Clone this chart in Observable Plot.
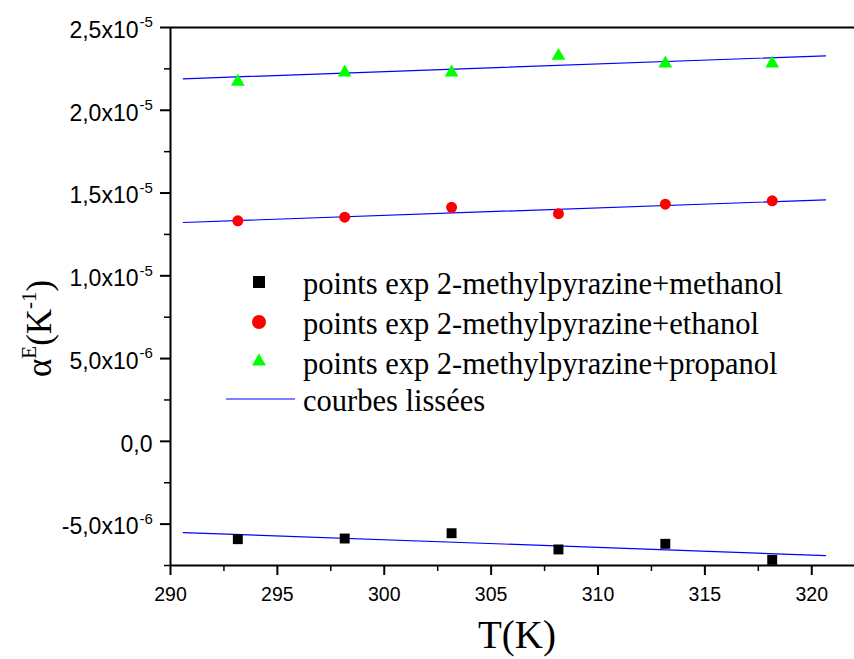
<!DOCTYPE html>
<html><head><meta charset="utf-8">
<script src="https://cdn.jsdelivr.net/npm/d3@7"></script>
<script src="https://cdn.jsdelivr.net/npm/@observablehq/plot@0.6"></script>
<style>body{margin:0;background:#fff}</style>
</head><body><div id="chart"></div>
<script>
// ---- data ----
const temperatures = [293.15, 298.15, 303.15, 308.15, 313.15, 318.15];
const methanol = [-5.91e-6, -5.87e-6, -5.55e-6, -6.53e-6, -6.19e-6, -7.16e-6];
const ethanol  = [1.332e-5, 1.354e-5, 1.414e-5, 1.375e-5, 1.433e-5, 1.453e-5];
const propanol = [2.172e-5, 2.228e-5, 2.228e-5, 2.329e-5, 2.283e-5, 2.283e-5];

const fitT = [290.6, 320.65];
const fitMethanol = [-5.51e-6, -6.90e-6];
const fitEthanol  = [1.322e-5, 1.459e-5];
const fitPropanol = [2.19e-5, 2.329e-5];

const xDomain = [290, 322];
const yDomain = [-7.5e-6, 2.5e-5];
const xMajorTicks = [290, 295, 300, 305, 310, 315, 320];
const xMinorTicks = [292.5, 297.5, 302.5, 307.5, 312.5, 317.5];
const yMajorTicks = [-5e-6, 0, 5e-6, 1e-5, 1.5e-5, 2e-5, 2.5e-5];
const yMajorMantissa = ["-5,0x10", "0,0", "5,0x10", "1,0x10", "1,5x10", "2,0x10", "2,5x10"];
const yMajorExponent = ["-6", "", "-6", "-5", "-5", "-5", "-5"];
const yMinorTicks = [-7.5e-6, -2.5e-6, 2.5e-6, 7.5e-6, 1.25e-5, 1.75e-5, 2.25e-5];

const seriesNames = [
  "points exp 2-methylpyrazine+methanol",
  "points exp 2-methylpyrazine+ethanol",
  "points exp 2-methylpyrazine+propanol"
];
const fitLabel = "courbes lissées";
const xTitle = "T(K)";

// ---- tables built from the arrays ----
const toRows = (vals) => temperatures.map((T, i) => ({T, v: vals[i]}));
const methRows = toRows(methanol), ethRows = toRows(ethanol), propRows = toRows(propanol);
const fitRows = [
  ...fitT.map((T, i) => ({T, v: fitMethanol[i], s: "m"})),
  ...fitT.map((T, i) => ({T, v: fitEthanol[i], s: "e"})),
  ...fitT.map((T, i) => ({T, v: fitPropanol[i], s: "p"}))
];
const yLabelRows = yMajorTicks.map((v, i) => ({v, m: yMajorMantissa[i], e: yMajorExponent[i]}));

const plot = Plot.plot({
  width: 854, height: 659,
  marginTop: 27, marginBottom: 94, marginLeft: 170, marginRight: 0,
  style: {background: "white", color: "black", fontFamily: "Liberation Sans"},
  x: {domain: xDomain},
  y: {domain: yDomain},
  marks: [
    Plot.ruleY([yDomain[0], yDomain[1]], {stroke: "black", strokeWidth: 2}),
    Plot.ruleX([xDomain[0]], {stroke: "black", strokeWidth: 2}),
    Plot.axisX({ticks: xMajorTicks, tickSize: 10, tickPadding: 11.5, strokeWidth: 2, fontSize: 19.5,
      fontFamily: "Liberation Sans", tickFormat: d => String(d), label: null}),
    Plot.axisX({ticks: xMinorTicks, tickSize: 6, strokeWidth: 1.5, fill: "none", label: null}),
    Plot.axisY({ticks: yMajorTicks, tickSize: 10, strokeWidth: 2, fill: "none", label: null, anchor: "left"}),
    Plot.axisY({ticks: yMinorTicks, tickSize: 6, strokeWidth: 1.5, fill: "none", label: null, anchor: "left"}),
    Plot.text(yLabelRows.filter(d => d.e), {y: "v", text: "m", frameAnchor: "left", dx: -32, dy: 3,
      textAnchor: "end", fontSize: 23, fontFamily: "Liberation Sans", fill: "black"}),
    Plot.text(yLabelRows.filter(d => d.e), {y: "v", text: "e", frameAnchor: "left", dx: -31, dy: -5,
      textAnchor: "start", fontSize: 15, fontFamily: "Liberation Sans", fill: "black"}),
    Plot.text(yLabelRows.filter(d => !d.e), {y: "v", text: "m", frameAnchor: "left", dx: -18, dy: 3,
      textAnchor: "end", fontSize: 23, fontFamily: "Liberation Sans", fill: "black"}),
    Plot.line(fitRows, {x: "T", y: "v", z: "s", stroke: "#0000ff", strokeWidth: 1.2}),
    Plot.dot(methRows, {x: "T", y: "v", symbol: "square", r: 5.6, fill: "black", stroke: "none"}),
    Plot.dot(ethRows, {x: "T", y: "v", symbol: "circle", r: 5.5, fill: "#ff0000", stroke: "none"}),
    Plot.dot(propRows, {x: "T", y: "v", symbol: "triangle", r: 5.1, fill: "#00ff00", stroke: "none"})
  ]
});
document.getElementById("chart").appendChild(plot);

// ---- legend and axis titles ----
const svg = d3.select(plot);
const leg = svg.append("g").attr("font-family", "Liberation Serif").attr("font-size", 30.5)
  .attr("fill", "black").attr("text-anchor", "start");
const legendSymbols = [
  {sym: d3.symbolSquare, size: 144, fill: "black"},
  {sym: d3.symbolCircle, size: 154, fill: "#ff0000"},
  {sym: d3.symbolTriangle, size: 85, fill: "#00ff00"}
];
const rowY = [282, 322, 361.5, 399];
legendSymbols.forEach((s, i) => {
  leg.append("path").attr("d", d3.symbol(s.sym, s.size)()).attr("transform", `translate(259,${rowY[i]})`).attr("fill", s.fill);
  leg.append("text").attr("x", 303).attr("y", rowY[i] + 12).text(seriesNames[i]);
});
leg.append("line").attr("x1", 226).attr("x2", 295).attr("y1", rowY[3]).attr("y2", rowY[3]).attr("stroke", "#0000ff").attr("stroke-width", 1.2);
leg.append("text").attr("x", 303).attr("y", rowY[3] + 12).text(fitLabel);

svg.append("text").attr("x", 517).attr("y", 648).attr("text-anchor", "middle")
  .attr("font-family", "Liberation Serif").attr("font-size", 39).attr("fill", "black").text(xTitle);

const yt = svg.append("text").attr("transform", "translate(51,377) rotate(-90)").attr("text-anchor", "start")
  .attr("font-family", "Liberation Serif").attr("font-size", 35).attr("fill", "black");
yt.append("tspan").text("α");
yt.append("tspan").attr("font-size", 21).attr("dy", -15).text("E");
yt.append("tspan").attr("dy", 15).text("(K");
yt.append("tspan").attr("font-size", 21).attr("dy", -15).text("-1");
yt.append("tspan").attr("dy", 15).text(")");
</script>
</body></html>
